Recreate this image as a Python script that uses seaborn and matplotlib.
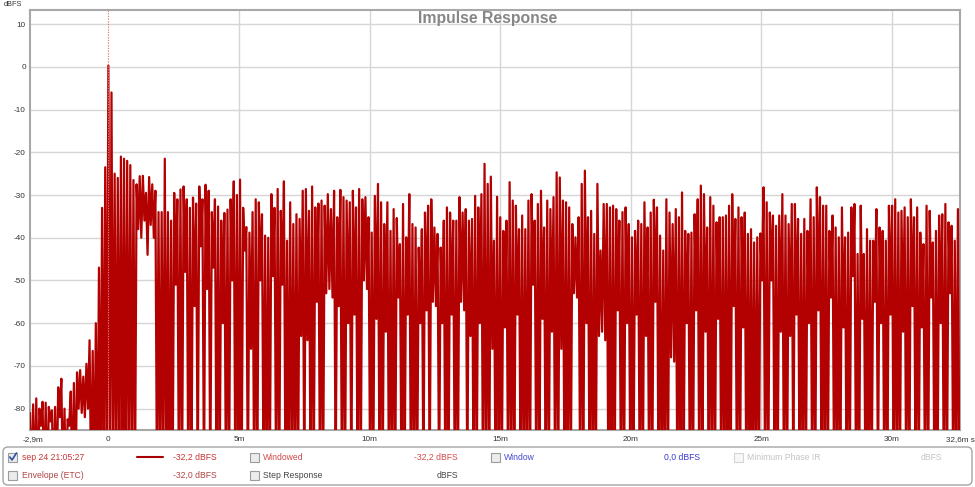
import numpy as np
import pandas as pd
import matplotlib
matplotlib.use("Agg")
import matplotlib.pyplot as plt
import seaborn as sns
from matplotlib.patches import FancyBboxPatch, Rectangle
from matplotlib.lines import Line2D

# ---------------- data ----------------
T0_MS = -3.0          # first column time (ms)
STEP_MS = 0.12        # column spacing (ms)
DIP_DB = -99.0        # level when the trace drops below the plot floor

# top of the trace in each column, pre-ringing part (-3.0 ... -0.12 ms)
pre_ring_db = [
    -81, -79, -77.6, -80, -78.4, -78.6, -79.6, -80.4, -79.6, -75,
    -73, -80, -82.5, -76, -74, -71.5, -71, -72.5, -69.5, -64,
    -66.5, -60, -47, -33, -23.5,
]
# top of the trace in each column, main impulse and decay (0 ... 32.52 ms)
decay_db = [
    0.3, -6, -25, -26, -21,
    -21.5, -22, -23, -26.5, -27.5, -25.6, -25.5, -29.5, -25.8, -27.5,
    -29, -34, -34, -21.5, -34, -36, -29.5, -31, -28.7, -28,
    -31, -33, -30.6, -32, -28, -31, -27.6, -29, -34, -31,
    -32.7, -36, -34.2, -33.4, -31, -26.8, -30, -26.4, -33, -37.5,
    -38.8, -34, -31, -31.7, -34.5, -39.5, -40, -29.8, -33, -28.6,
    -33.7, -26.8, -40.7, -31.7, -36.8, -34.5, -35.6, -29, -28.6, -33.7,
    -28, -32.9, -32, -31.3, -32.5, -29.8, -33.3, -29, -35.2, -28.8,
    -30.5, -31.3, -31.7, -29, -32.9, -28.6, -31, -30.5, -35.2, -38.8,
    -30.2, -27.4, -31.7, -36.8, -31.7, -38.4, -33.3, -35.4, -41.5, -32.1,
    -39.9, -29.8, -36.8, -37.6, -42.3, -38, -34.1, -32.5, -31, -37.6,
    -39.1, -42.3, -36, -32.9, -34.1, -36, -36, -30.5, -34.1, -33.3,
    -36, -35.6, -30.2, -32.9, -29.8, -22.7, -27.4, -25.7, -40.7, -30.4,
    -35.2, -38.4, -36, -27, -31.3, -32.5, -38, -34.8, -38, -31.3,
    -29.8, -36, -32.1, -29, -37.6, -31.3, -33.3, -30.5, -24.7, -25.9,
    -31.3, -31.7, -32.9, -36.8, -39.9, -35.2, -27.4, -24.3, -35.2, -33.7,
    -39.1, -27.4, -43, -32.1, -32.1, -32.9, -32.5, -33.3, -36, -34,
    -32.9, -36.8, -39.9, -38.4, -36, -36.8, -31.7, -37.6, -34.1, -31.1,
    -32.9, -39.5, -43, -31, -34.1, -36.8, -33.3, -35.2, -29.4, -38.4,
    -39.1, -38.8, -34.5, -31, -27.8, -29.8, -37.6, -30.5, -32.5, -36.4,
    -35.2, -35.2, -34.8, -32.5, -29.8, -35.6, -32.9, -35.2, -34.1, -39.1,
    -38, -41.1, -39.9, -39, -28.2, -31.7, -34.1, -34.8, -37.2, -34.8,
    -29.8, -34.8, -36.8, -32.1, -32.1, -35.6, -39.1, -35.6, -38.4, -31,
    -35.2, -28.2, -30.5, -32.5, -32.5, -38.4, -34.8, -37.6, -39.9, -32.9,
    -39.9, -38.8, -32.9, -32.1, -43.8, -32.5, -43.8, -38, -40.7, -40.7,
    -33.3, -37.6, -38.4, -40.7, -32.5, -32.5, -31, -34.1, -33.7, -32.9,
    -35.2, -31, -35.2, -32.9, -38.8, -41.5, -32.5, -33.7, -41.1, -38.4,
    -34.8, -34.5, -32.1, -36.4, -37.2, -40.7, -33.3,
]
# columns where the trace does not fall to the floor (white slits): time, lowest level
slit_ms = [
    -2.64, -2.28, -1.92, -1.56, -1.20, -1.08, -0.96, -0.84,
    1.08, 1.20, 1.32, 1.44, 1.56, 1.68,
    2.52, 2.88, 3.24, 3.48, 3.72, 3.96, 4.32, 4.68, 5.16, 5.40, 5.76, 6.24, 6.60,
    7.32, 7.56, 7.92, 8.28, 8.40, 8.52, 8.76, 9.12, 9.36, 9.72, 9.84, 10.20, 10.56,
    11.04, 11.40, 11.88, 12.12, 12.36, 12.48, 12.72, 13.08, 13.44, 13.56, 13.80,
    14.16, 14.64, 15.12, 15.60, 16.20, 16.56, 16.92, 17.28, 17.76, 17.88, 18.24,
    18.72, 18.84, 18.96, 19.44, 19.80, 20.16, 20.52, 20.88, 21.48, 21.60, 22.08,
    22.44, 22.80, 23.28, 23.88, 24.24, 24.96, 25.32, 25.68, 26.04, 26.28, 26.76,
    27.12, 27.60, 28.08, 28.44, 28.80, 29.28, 29.52, 29.88, 30.36, 30.72, 31.08,
    31.44, 31.80, 32.16,
]
slit_db = [
    -84, -83, -82, -84, -80, -81, -82, -80,
    -38, -40, -36, -44, -37, -40,
    -51, -48, -56, -42, -52, -47, -60, -50, -43, -66, -50, -49, -51,
    -63, -64, -55, -53, -52, -54, -56, -60, -58, -50, -52, -59, -62,
    -54, -58, -60, -57, -55, -56, -60, -58, -55, -57, -63,
    -60, -66, -61, -58, -51, -59, -62, -66, -53, -54, -60,
    -63, -62, -64, -57, -60, -58, -63, -55, -68, -69, -60,
    -57, -62, -59, -56, -61, -50, -50, -62, -63, -58, -60,
    -57, -54, -61, -49, -59, -55, -60, -58, -62, -56, -61,
    -54, -60, -53,
]

y_ticks = [-80, -70, -60, -50, -40, -30, -20, -10, 0, 10]
x_ticks = [-2.9, 0, 5, 10, 15, 20, 25, 30, 32.6]
x_tick_labels = ["-2,9m", "0", "5m", "10m", "15m", "20m", "25m", "30m", "32,6m s"]
x_grid = [5, 10, 15, 20, 25, 30]

# ---------------- build the trace ----------------
peaks = np.array(pre_ring_db + decay_db, dtype=float)
n = len(peaks)
t_cols = T0_MS + STEP_MS * np.arange(n)
troughs = np.full(n, DIP_DB)
for ts, d in zip(slit_ms, slit_db):
    k = int(round((ts - T0_MS) / STEP_MS))
    if 0 <= k < n:
        troughs[k] = d
t = np.empty(2 * n)
y = np.empty(2 * n)
t[0::2] = t_cols
t[1::2] = t_cols + STEP_MS / 2
y[0::2] = peaks
y[1::2] = troughs
df = pd.DataFrame({"t_ms": t, "level_db": y})

# ---------------- figure ----------------
sns.set_style("white")
plt.rcParams["font.family"] = ["Liberation Sans", "DejaVu Sans"]

W, H = 975, 487
fig = plt.figure(figsize=(W / 100, H / 100), dpi=100)
ax = fig.add_axes([30 / W, 57 / H, 930 / W, 420 / H])

RED = "#b30000"
sns.lineplot(data=df, x="t_ms", y="level_db", ax=ax, color=RED, linewidth=1.6,
             estimator=None, sort=False, zorder=3)

ax.set_xlim(-3.0, 32.6)
ax.set_ylim(-85, 13.3)
ax.set_xlabel("")
ax.set_ylabel("")
ax.set_yticks(y_ticks)
ax.set_yticklabels([str(v) for v in y_ticks])
ax.set_xticks(x_ticks)
ax.set_xticklabels(x_tick_labels)
ax.tick_params(axis="both", length=0, labelsize=5.9, labelcolor="#333333")
ax.tick_params(axis="y", pad=3)
ax.tick_params(axis="x", pad=4)

for v in y_ticks:
    ax.axhline(v, color="#d6d6d6", lw=1.0, zorder=1)
for v in x_grid:
    ax.axvline(v, color="#d6d6d6", lw=1.0, zorder=1)
ax.axvline(0, color="#e87878", lw=0.8, ls=(0, (1.2, 1.2)), zorder=4)

for s in ax.spines.values():
    s.set_color("#a8a8a8")
    s.set_linewidth(1.5)

fig.text(0.5, 1 - 19 / H, "Impulse Response", ha="center", va="center",
         fontsize=11.3, fontweight="bold", color="#868686")
fig.text(13 / W, 1 - 5 / H, "dBFS", ha="center", va="center", fontsize=5.3,
         color="#333333")

# ---------------- legend panel ----------------
tr = fig.dpi_scale_trans  # inches; 1 px = 0.01 in
def px(v):
    return v / 100.0

panel = FancyBboxPatch((px(3), px(2)), px(969), px(38),
                       boxstyle="round,pad=0,rounding_size=0.05",
                       transform=tr, fc="white", ec="#a4a4a4", lw=1.0)
fig.add_artist(panel)

row1 = px(H - 457)
row2 = px(H - 475)

def checkbox(x, yc, faint=False, checked=False):
    ec = "#d4d4d4" if faint else "#9c9c9c"
    fc = "#f7f7f7" if faint else "#ececec"
    fig.add_artist(Rectangle((px(x), yc - px(4.5)), px(9), px(9), transform=tr,
                             fc=fc, ec=ec, lw=0.8))
    if checked:
        fig.add_artist(Line2D([px(x + 1.8), px(x + 4), px(x + 8.5)],
                              [yc, yc - px(3), yc + px(4)],
                              transform=tr, color="#3050a8", lw=1.2))

def label(x, yc, s, color, ha="left"):
    fig.text(px(x), yc, s, transform=tr, ha=ha, va="center", fontsize=6.2,
             color=color)

checkbox(8, row1, checked=True)
label(22, row1, "sep 24 21:05:27", "#c83434")
fig.add_artist(Line2D([px(137), px(163)], [row1, row1], transform=tr,
                      color="#a80000", lw=1.5))
label(217, row1, "-32,2 dBFS", "#c83434", ha="right")
checkbox(250, row1)
label(263, row1, "Windowed", "#d24a4a")
label(458, row1, "-32,2 dBFS", "#d24a4a", ha="right")
checkbox(491, row1)
label(504, row1, "Window", "#4a4ad2")
label(700, row1, "0,0 dBFS", "#3a3ad0", ha="right")
checkbox(734, row1, faint=True)
label(747, row1, "Minimum Phase IR", "#c4c4c4")
label(942, row1, "dBFS", "#c4c4c4", ha="right")

checkbox(8, row2)
label(22, row2, "Envelope (ETC)", "#b04444")
label(217, row2, "-32,0 dBFS", "#b04444", ha="right")
checkbox(250, row2)
label(263, row2, "Step Response", "#444444")
label(458, row2, "dBFS", "#444444", ha="right")

fig.savefig("out.png", dpi=100)
